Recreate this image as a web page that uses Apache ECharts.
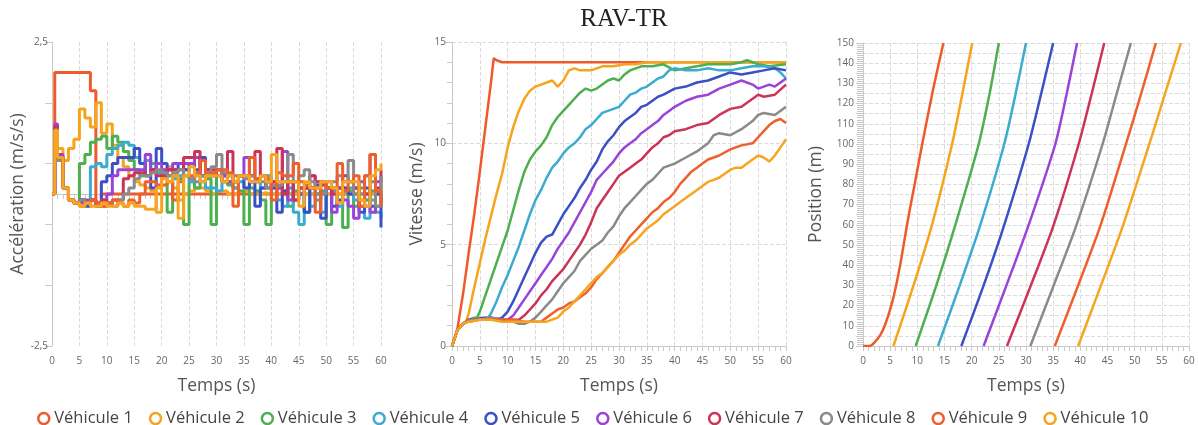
<!DOCTYPE html>
<html><head><meta charset="utf-8">
<script src="https://cdn.jsdelivr.net/npm/echarts@6/dist/echarts.min.js"></script>
<style>html,body{margin:0;padding:0;background:#fff}#c{width:1198px;height:425px}</style>
</head><body><div id="c"></div>
<script>
const names = ['Véhicule 1','Véhicule 2','Véhicule 3','Véhicule 4','Véhicule 5','Véhicule 6','Véhicule 7','Véhicule 8','Véhicule 9','Véhicule 10'];
const colors = ['#EE5A2B','#F8A31C','#4DAF4E','#3BABD0','#3B4FC6','#9A43D9','#CC3358','#8A8A8A','#EF5F2C','#F7A520'];
const xTicks = [0,5,10,15,20,25,30,35,40,45,50,55,60];

// acceleration sample times (s)
const accT = [0,0.5,1,2,3,4,5,6,7,8,9,10,11,12,13,14,15,16,17,18,19,20,21,22,23,24,25,26,27,28,29,30,31,32,33,34,35,36,37,38,39,40,41,42,43,44,45,46,47,48,49,50,51,52,53,54,55,56,57,58,59,60];
const acc1 = [0,2.0, 2.0,2.0,2.0,2.0,2.0,2.0,1.7,-0.2,0,0, 0,0,0,0,0,0,0,0,0,0, 0,0,0,0,0,0,0,0,0,0, 0,0,0,0,0,0,0,0,0,0, 0,0,0,0,0,0,0,0,0,0, 0,0,0,0,0,0,0,0,0,0];
const acc2 = [0,1.1, 0.75,0.55,0.75,0.9,1.4,1.25,1.1,1.5,1.0,1.15, 0.8,0.6,0.45,0.3,0.2,0.15,0.1,0.05,-0.3,0.3, 0.45,0.1,-0.1,0.0,0.05,0.1,0.1,0.05,0.0,0.05, 0.05,0.0,0.0,0.05,0.05,0,0,0.02,0,0, 0,0,0,0,0,0,0,0,0,0, 0,0,0,0,0,0,0,0,0,0];
const acc3 = [0,1.0, 0.6,0.1,-0.1,-0.15,0.5,0.65,0.85,0.9,0.95,0.75, 0.95,0.85,0.7,0.55,0.4,0.3,0.55,0.5,0.35,0.3, -0.3,0.3,0.25,-0.5,0.2,0.1,0.2,0.25,-0.5,0.3, 0.2,0.15,0.1,0.05,-0.5,0.1,0.05,-0.1,-0.5,0.2, 0.1,0.05,-0.2,0.05,0.0,-0.3,0.1,0.0,0.05,-0.5, 0.1,0.1,-0.55,0.05,-0.2,0.1,-0.1,0.05,-0.2,0.1];
const acc4 = [0,1.05, 0.6,0.1,-0.1,-0.15,-0.1,-0.15,0.45,0.5,0.45,0.65, 0.75,0.8,0.85,0.8,0.6,0.5,0.55,0.4,0.35,0.35, 0.3,0.25,0.3,0.4,0.2,0.3,0.3,0.1,0.1,0.05, 0.3,0.3,0.1,0.2,0.1,0.2,0.2,0.1,0.3,0.1, -0.1,-0.2,0.1,-0.3,-0.5,0.1,-0.2,0.0,-0.3,0.1, 0.05,-0.2,0.1,0.1,-0.1,0.0,-0.4,-0.1,-0.3,-0.4];
const acc5 = [0,1.1, 0.6,0.1,-0.1,-0.15,-0.1,-0.2,-0.1,-0.15,0.2,0.3, 0.5,0.6,0.6,0.6,0.75,0.5,0.3,0.1,0.75,0.5, 0.4,0.4,0.5,0.4,0.5,0.4,0.6,0.4,0.3,0.4, 0.3,0.2,0.2,0.3,0.1,0.2,-0.2,0.1,0.2,0.1, -0.3,0.05,0.2,-0.1,0.1,-0.3,0.1,0.15,-0.4,0.1, -0.2,-0.1,0.1,0.0,0.1,-0.3,0.1,-0.2,0.0,-0.55];
const acc6 = [0,1.15, 0.65,0.1,-0.1,-0.15,-0.15,-0.1,-0.1,-0.15,-0.1,0.0, 0.3,0.4,0.4,0.4,0.4,0.4,0.65,0.4,0.5,0.4, 0.4,0.5,0.5,0.5,0.5,0.6,0.3,0.3,0.3,0.4, 0.3,0.2,0.2,0.3,0.6,0.2,0.2,0.3,0.2,0.2, 0.1,0.7,-0.1,0.2,0.0,0.1,0.3,0.1,0.2,0.1, -0.3,0.1,-0.1,-0.2,-0.4,0.2,-0.2,-0.3,0.2,0.3];
const acc7 = [0,1.1, 0.6,0.1,-0.1,-0.15,-0.1,-0.15,-0.1,-0.2,-0.1,-0.15, -0.1,-0.1,0.25,0.3,0.35,0.35,0.3,0.4,0.3,0.3, 0.4,0.4,0.4,0.6,0.6,0.7,0.3,0.4,0.4,0.3, 0.2,0.7,0.2,0.3,0.3,0.3,0.7,0.3,0.1,0.2, 0.75,0.0,0.2,-0.1,0.1,0.1,0.3,0.2,0.15,0.1, 0.0,0.1,0.3,0.2,0.1,-0.2,0.0,0.65,0.1,0.4];
const acc8 = [0,1.0, 0.55,0.1,-0.1,-0.15,-0.1,-0.15,-0.1,-0.15,-0.2,-0.15, -0.2,-0.1,0.0,0.1,0.25,0.3,0.3,0.35,0.4,0.35, 0.3,0.35,0.4,0.3,0.25,0.2,0.3,0.35,0.45,0.65, 0.35,0.3,0.3,0.3,0.25,0.3,0.25,0.2,0.1,0.15, 0.15,0.2,0.65,0.2,0.3,0.4,0.2,-0.1,0.0,0.2, 0.2,0.3,0.2,0.55,0.0,-0.1,0.3,0.2,-0.2,0.3];
const acc9 = [0,1.05, 0.6,0.1,-0.1,-0.15,-0.2,-0.15,-0.1,-0.15,-0.2,-0.15, -0.1,-0.15,-0.2,-0.1,-0.15,0.0,0.2,0.2,0.15,0.15, 0.2,-0.1,0.2,0.3,0.3,0.35,0.55,0.3,0.35,0.4, 0.4,0.35,-0.2,0.3,0.3,0.6,0.25,0.3,0.25,-0.1, 0.35,0.3,0.3,0.5,0.2,0.15,0.1,-0.3,0.2,0.1, 0.1,0.5,0.05,0.2,0.3,-0.2,0.3,0.65,0.05,-0.2];
const acc10 = [0,1.05, 0.6,0.1,-0.1,-0.15,-0.2,-0.15,-0.2,-0.2,-0.15,-0.2, -0.2,-0.15,-0.2,-0.15,-0.2,-0.2,-0.25,-0.25,0.1,0.25, 0.2,0.3,-0.4,0.3,0.45,0.3,0.2,0.3,0.3,0.3, 0.2,0.3,0.2,0.3,0.3,0.2,0.2,0.3,0.2,0.65, 0.2,0.2,0.2,0.2,-0.2,0.2,0.1,0.1,0.2,0.2, 0.1,-0.15,0.2,0.2,0.2,-0.1,-0.2,0.3,0.4,0.5];

// velocity [t, v]
const vel1 = [[0,0],[0.5,0.4],[1,0.9],[2,2.6],[3,4.6],[4,6.5],[5,8.6],[6,10.8],[7,13.0],[7.5,14.2],[8,14.1],[9,14.0],[60,14.0]];
const vel2 = [[0,0],[1,0.8],[2,1.1],[2.5,1.2],[3,1.6],[4,2.9],[5,4.1],[6,5.3],[7,6.4],[8,7.5],[9,8.5],[10,9.8],[11,10.8],[12,11.6],[13,12.2],[14,12.6],[15,12.8],[16,12.9],[17,13.0],[18,13.1],[19,12.8],[20,13.1],[21,13.6],[22,13.7],[23,13.6],[25,13.6],[27,13.8],[29,13.8],[31,13.9],[33,13.9],[35,14.0],[60,14.0]];
const vel3 = [[0,0],[1,0.8],[2,1.1],[3,1.3],[4,1.4],[4.5,1.4],[5,1.7],[6,2.5],[7,3.3],[8,4.1],[9,4.9],[10,5.7],[11,6.7],[12,7.7],[13,8.6],[14,9.2],[15,9.6],[16,9.9],[17,10.3],[18,10.9],[19,11.3],[20,11.6],[21,11.9],[22,12.2],[23,12.5],[24,12.7],[25,12.6],[26,12.7],[27,12.9],[28,13.1],[29,13.2],[30,13.1],[31,13.4],[32,13.6],[34,13.8],[36,13.8],[38,13.9],[40,13.6],[42,13.7],[44,13.8],[46,13.9],[48,13.9],[50,13.9],[52,14.0],[53,14.1],[55,13.9],[57,13.8],[60,13.9]];
const vel4 = [[0,0],[1,0.8],[2,1.1],[3,1.3],[4,1.3],[5,1.4],[6,1.4],[6.5,1.4],[7,1.6],[8,2.2],[9,2.9],[10,3.5],[11,4.2],[12,4.9],[13,5.7],[14,6.5],[15,7.2],[16,7.7],[17,8.3],[18,8.8],[19,9.1],[20,9.5],[21,9.8],[22,10.0],[23,10.3],[24,10.7],[25,10.9],[26,11.2],[27,11.5],[28,11.6],[29,11.7],[30,11.8],[31,12.1],[32,12.4],[33,12.5],[34,12.7],[35,12.8],[36,13.0],[37,13.2],[38,13.3],[39,13.6],[40,13.7],[42,13.6],[44,13.6],[46,13.7],[48,13.6],[50,13.6],[52,13.7],[54,13.8],[56,13.8],[58,13.7],[59,13.5],[60,13.2]];
const vel5 = [[0,0],[1,0.8],[2,1.1],[3,1.3],[4,1.3],[6,1.4],[8,1.3],[9,1.4],[10,1.7],[11,2.2],[12,2.8],[13,3.4],[14,4.0],[15,4.6],[16,5.1],[17,5.4],[18,5.5],[19,6.0],[20,6.5],[21,6.9],[22,7.3],[23,7.8],[24,8.2],[25,8.7],[26,9.1],[27,9.7],[28,10.1],[29,10.4],[30,10.8],[31,11.1],[32,11.3],[33,11.5],[34,11.8],[35,11.9],[36,12.1],[37,12.3],[38,12.4],[40,12.7],[42,12.8],[44,13.0],[46,13.1],[48,13.3],[50,13.5],[52,13.4],[54,13.5],[56,13.6],[58,13.7],[60,13.6]];
const vel6 = [[0,0],[1,0.8],[2,1.1],[3,1.3],[5,1.3],[7,1.4],[9,1.3],[10,1.3],[11,1.5],[12,1.9],[13,2.3],[14,2.7],[15,3.1],[16,3.5],[17,3.9],[18,4.3],[19,4.8],[20,5.2],[21,5.6],[22,6.1],[23,6.6],[24,7.1],[25,7.6],[26,8.2],[27,8.5],[28,8.8],[29,9.1],[30,9.5],[31,9.8],[32,10.0],[33,10.2],[34,10.5],[35,10.7],[36,10.9],[37,11.1],[38,11.4],[39,11.6],[40,11.8],[42,12.1],[44,12.3],[46,12.4],[48,12.7],[50,12.9],[52,13.1],[54,12.9],[55,12.7],[57,12.9],[58,12.8],[60,13.2]];
const vel7 = [[0,0],[1,0.8],[2,1.1],[3,1.3],[5,1.3],[7,1.4],[9,1.3],[11,1.3],[12,1.3],[13,1.5],[14,1.8],[15,2.1],[16,2.5],[17,2.8],[18,3.2],[19,3.5],[20,3.8],[21,4.2],[22,4.6],[23,5.0],[24,5.5],[25,6.1],[26,6.8],[27,7.2],[28,7.6],[29,8.0],[30,8.4],[31,8.6],[32,8.8],[33,9.0],[34,9.2],[35,9.5],[36,9.8],[37,10.0],[38,10.3],[39,10.4],[40,10.6],[42,10.7],[44,10.9],[46,11.0],[48,11.4],[50,11.7],[52,11.8],[54,12.2],[55,12.4],[56,12.3],[58,12.4],[60,12.9]];
const vel8 = [[0,0],[1,0.8],[2,1.1],[3,1.3],[5,1.3],[7,1.4],[9,1.3],[11,1.2],[12,1.1],[13,1.1],[14,1.2],[15,1.4],[16,1.7],[17,2.0],[18,2.3],[19,2.7],[20,3.1],[21,3.4],[22,3.7],[23,4.2],[24,4.5],[25,4.8],[26,5.0],[27,5.2],[28,5.6],[29,5.9],[30,6.4],[31,6.8],[32,7.1],[33,7.4],[34,7.7],[35,8.0],[36,8.2],[37,8.5],[38,8.8],[39,8.9],[40,9.0],[42,9.3],[44,9.6],[46,10.0],[47,10.4],[48,10.5],[50,10.4],[52,10.7],[54,11.1],[55,11.4],[56,11.5],[58,11.4],[60,11.8]];
const vel9 = [[0,0],[1,0.8],[2,1.1],[3,1.2],[5,1.3],[7,1.3],[9,1.3],[11,1.3],[13,1.2],[15,1.2],[16,1.2],[17,1.4],[18,1.6],[19,1.8],[20,1.9],[21,2.1],[22,2.2],[23,2.4],[24,2.6],[25,2.9],[26,3.3],[27,3.6],[28,3.9],[29,4.2],[30,4.6],[31,5.0],[32,5.4],[33,5.7],[34,6.0],[35,6.3],[36,6.6],[37,6.8],[38,7.1],[39,7.3],[40,7.6],[41,8.0],[42,8.3],[43,8.6],[44,8.8],[45,9.0],[46,9.2],[48,9.4],[50,9.7],[52,9.9],[54,10.0],[55,10.3],[56,10.6],[57,10.9],[58,11.1],[59,11.2],[60,11.0]];
const vel10 = [[0,0],[1,0.8],[2,1.1],[3,1.2],[5,1.3],[7,1.3],[9,1.2],[11,1.2],[13,1.2],[15,1.2],[17,1.2],[18,1.3],[19,1.4],[20,1.7],[21,1.9],[22,2.2],[23,2.5],[24,2.8],[25,3.1],[26,3.4],[27,3.6],[28,3.9],[29,4.2],[30,4.5],[31,4.7],[32,5.0],[33,5.2],[34,5.5],[35,5.8],[36,6.0],[37,6.2],[38,6.5],[39,6.7],[40,6.9],[41,7.1],[42,7.3],[43,7.5],[44,7.7],[45,7.9],[46,8.1],[47,8.2],[48,8.3],[49,8.5],[50,8.7],[51,8.8],[52,8.8],[53,9.0],[54,9.2],[55,9.4],[56,9.3],[57,9.1],[58,9.4],[59,9.8],[60,10.2]];

// position [t, p]
const pos1 = [[0,0],[1.2,0],[2.2,2],[3.2,5.5],[4.0,10],[5.2,20],[6.1,30],[7.1,44],[8.1,60],[9.5,80],[10.9,100],[12.9,127],[14.8,150]];
const pos2 = [[5.6,0],[9.3,30],[12.7,60],[16.4,100],[18.3,125],[20.1,150]];
const pos3 = [[9.7,0],[13.5,30],[17.0,60],[21.3,100],[23.3,125],[25.0,150]];
const pos4 = [[13.8,0],[17.8,30],[21.6,60],[26.0,100],[28.1,125],[30.0,150]];
const pos5 = [[18.1,0],[22.2,30],[26.0,60],[30.5,100],[32.8,125],[35.0,150]];
const pos6 = [[22.2,0],[26.4,30],[30.5,60],[35.4,100],[37.5,125],[39.4,150]];
const pos7 = [[26.5,0],[30.9,30],[35.1,60],[39.7,100],[42.1,125],[44.4,150]];
const pos8 = [[30.8,0],[35.1,30],[39.3,60],[44.1,100],[46.7,125],[49.3,150]];
const pos9 = [[35.3,0],[39.6,30],[43.75,60],[48.4,100],[51.2,125],[53.9,150]];
const pos10 = [[39.6,0],[43.8,30],[47.9,60],[52.7,100],[55.6,125],[58.5,150]];

const accTickVals = [-2.5,-1.5,-0.5,0.5,1.5,2.5];
const accLabelVals = [-2.5,2.5];
const posLabelVals = [0,10,20,30,40,50,60,70,80,90,100,110,120,130,140,150];

const accAll = [acc1,acc2,acc3,acc4,acc5,acc6,acc7,acc8,acc9,acc10];
const velAll = [vel1,vel2,vel3,vel4,vel5,vel6,vel7,vel8,vel9,vel10];
const posAll = [pos1,pos2,pos3,pos4,pos5,pos6,pos7,pos8,pos9,pos10];

const FONT = '"Open Sans", "Noto Sans", sans-serif';
const axisGray = '#c9c9c9';
function xAxis(i){
  return {type:'value', gridIndex:i, min:0, max:60, interval:5,
    name:'Temps (s)', nameLocation:'middle', nameGap:31,
    nameTextStyle:{fontSize:17.5, color:'#555', fontFamily:FONT},
    axisLine:{lineStyle:{color:axisGray}},
    axisTick:{show:true, length:5, lineStyle:{color:axisGray}},
    minorTick:{show:true, splitNumber:5, length:5, lineStyle:{color:axisGray}},
    axisLabel:{color:'#666', fontSize:10, fontFamily:FONT, margin:10},
    splitLine:{show:true, lineStyle:{type:'dashed', color:'#dcdcdc'}}};
}
const grids = [
  {left:52, top:42, width:329, height:304},
  {left:452, top:42, width:334, height:304},
  {left:863, top:43, width:326, height:303}
];
const yAxes = [
  {type:'value', gridIndex:0, min:-2.5, max:2.5,
   name:'Accélération (m/s/s)', nameLocation:'middle', nameGap:25,
   nameTextStyle:{fontSize:17.5, color:'#555', fontFamily:FONT},
   axisLine:{show:true, lineStyle:{color:axisGray}},
   axisTick:{show:true, length:7, customValues:accTickVals, lineStyle:{color:axisGray}},
   axisLabel:{customValues:accLabelVals, color:'#666', fontSize:10, fontFamily:FONT, margin:4,
     formatter:v=>String(v).replace('.',',')},
   splitLine:{show:false}},
  {type:'value', gridIndex:1, min:0, max:15, interval:5,
   name:'Vitesse (m/s)', nameLocation:'middle', nameGap:26,
   nameTextStyle:{fontSize:17.5, color:'#555', fontFamily:FONT},
   axisLine:{show:true, lineStyle:{color:axisGray}},
   axisTick:{show:true, length:7, lineStyle:{color:axisGray}},
   minorTick:{show:true, splitNumber:5, length:5, lineStyle:{color:axisGray}},
   axisLabel:{color:'#666', fontSize:10, fontFamily:FONT, margin:6},
   splitLine:{show:true, lineStyle:{type:'dashed', color:'#dcdcdc'}}},
  {type:'value', gridIndex:2, min:0, max:150, interval:5,
   name:'Position (m)', nameLocation:'middle', nameGap:38,
   nameTextStyle:{fontSize:17.5, color:'#555', fontFamily:FONT},
   axisLine:{show:true, lineStyle:{color:axisGray}},
   axisTick:{show:true, length:7, lineStyle:{color:axisGray}},
   minorTick:{show:true, splitNumber:5, length:6, lineStyle:{color:axisGray}},
   axisLabel:{customValues:posLabelVals, color:'#666', fontSize:10, fontFamily:FONT, margin:9},
   splitLine:{show:true, lineStyle:{type:'dashed', color:'#dcdcdc'}}}
];

const series = [];
for (let k=0;k<10;k++){
  series.push({name:names[k], type:'line', xAxisIndex:0, yAxisIndex:0, step:'end', showSymbol:false, symbol:'none',
    lineStyle:{width:3, color:colors[k]}, itemStyle:{color:colors[k]},
    data: accT.map((t,j)=>[t, accAll[k][j]])});
}
for (let k=0;k<10;k++){
  series.push({name:names[k], type:'line', xAxisIndex:1, yAxisIndex:1, showSymbol:false, symbol:'none',
    lineStyle:{width:2.5, color:colors[k]}, itemStyle:{color:colors[k]}, data: velAll[k]});
}
for (let k=0;k<10;k++){
  series.push({name:names[k], type:'line', xAxisIndex:2, yAxisIndex:2, showSymbol:false, symbol:'none',
    smooth:0.25,
    lineStyle:{width:2.5, color:colors[k]}, itemStyle:{color:colors[k]}, data: posAll[k]});
}

const chart = echarts.init(document.getElementById('c'), null, {renderer:'canvas'});
chart.setOption({
  animation:false,
  color:colors,
  graphic:[{type:'text', x:624, y:19, style:{text:'RAV-TR', font:'25px "Liberation Serif", "DejaVu Serif", serif', fill:'#222', textAlign:'center', textVerticalAlign:'middle'}}],
  legend:{
    data:names.map((n,k)=>({name:n, icon:'circle', itemStyle:{color:'#fff', borderColor:colors[k], borderWidth:2.5}})),
    top:405, left:32, itemWidth:11, itemHeight:11, itemGap:16,
    textStyle:{fontSize:16.5, color:'#444', fontFamily:FONT}},
  grid:grids,
  xAxis:[xAxis(0), xAxis(1), xAxis(2)],
  yAxis:yAxes,
  series:series
});
</script>
</body></html>
